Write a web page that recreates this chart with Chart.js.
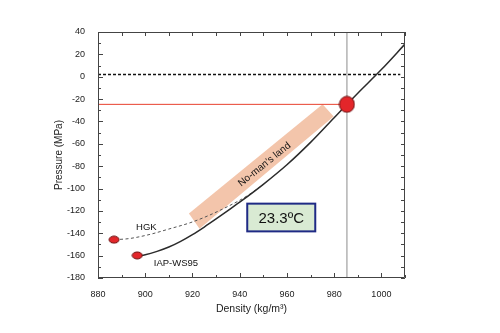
<!DOCTYPE html>
<html>
<head>
<meta charset="utf-8">
<script src="https://cdn.jsdelivr.net/npm/chart.js@4/dist/chart.umd.min.js"></script>
<style>
  body { margin: 0; background: #fff; }
  canvas { display: block; }
</style>
</head>
<body>
<canvas id="grafico" width="500" height="333"></canvas>
<script>
// Datos
const densIAP = [897, 900, 905, 910, 915, 920, 925, 930, 935, 940, 950, 960, 970, 980, 985.4, 990, 1000, 1010];
const presIAP = [-160.5, -159.3, -156.2, -152.3, -147.2, -141.2, -134.4, -127.2, -119.8, -112.2, -96.2, -78.7, -58.7, -36.6, -24.7, -14.7, 6.4, 29.2];

const densHGK = [887, 893, 902, 910, 919, 927, 935, 940, 945, 950];
const presHGK = [-145.7, -144.8, -141, -136.2, -130.6, -124, -116, -110.5, -104, -96.5];

// Zona "No-man's land" (esquinas)
const densBanda = [918.5, 975.1, 979.8, 923];
const presBanda = [-122.4, -24.7, -35.5, -135.9];

const densMarcas = [886.8, 896.6];
const presMarcas = [-145.7, -159.8];
const densCruce = 985.4;
const presCruce = -24.7;
const presAtm = 2;

const xTicks = [880, 900, 920, 940, 960, 980, 1000];
const yTicks = [40, 20, 0, -20, -40, -60, -80, -100, -120, -140, -160, -180];

const pares = (xs, ys) => xs.map((x, i) => ({ x: x, y: ys[i] }));

function elipse(w, h) {
    const c = document.createElement('canvas');
    c.width = w + 2; c.height = h + 2;
    const g = c.getContext('2d');
    g.beginPath();
    g.ellipse((w + 2) / 2, (h + 2) / 2, w / 2, h / 2, 0, 0, Math.PI * 2);
    g.fillStyle = '#e3262a';
    g.fill();
    g.lineWidth = 1;
    g.strokeStyle = '#6b1010';
    g.stroke();
    return c;
}

// Marco, marcas hacia adentro en los cuatro lados y textos
const marcasPlugin = {
    id: 'marcas',
    afterDraw(chart) {
        const ctx = chart.ctx;
        const a = chart.chartArea;
        const x = chart.scales.x, y = chart.scales.y;
        ctx.save();
        ctx.setLineDash([]);
        ctx.strokeStyle = '#444';
        ctx.lineWidth = 1;
        ctx.beginPath();
        ctx.rect(Math.round(a.left) + 0.5, Math.round(a.top) + 0.5,
                 Math.round(a.right - a.left) - 1, Math.round(a.bottom - a.top) - 1);
        ctx.stroke();
        ctx.beginPath();
        for (let v = 880; v <= 1010; v += 10) {
            const px = Math.round(x.getPixelForValue(v)) + 0.5;
            const l = v % 20 === 0 ? 5 : 3;
            ctx.moveTo(px, a.bottom); ctx.lineTo(px, a.bottom - l);
            ctx.moveTo(px, a.top); ctx.lineTo(px, a.top + 4);
        }
        for (let v = -180; v <= 40; v += 10) {
            const py = Math.round(y.getPixelForValue(v)) + 0.5;
            const l = v % 20 === 0 ? 5 : 3;
            ctx.moveTo(a.left, py); ctx.lineTo(a.left + l, py);
            ctx.moveTo(a.right, py); ctx.lineTo(a.right - 4, py);
        }
        ctx.stroke();

        // etiquetas
        ctx.fillStyle = '#111';
        ctx.font = '9.5px "Liberation Sans", Arial, sans-serif';
        ctx.textAlign = 'center';
        ctx.textBaseline = 'middle';
        ctx.fillText('HGK', x.getPixelForValue(900.5), y.getPixelForValue(-135));
        ctx.fillText('IAP-WS95', x.getPixelForValue(913), y.getPixelForValue(-167));

        // texto rotado de la banda
        ctx.save();
        ctx.translate(x.getPixelForValue(950.5), y.getPixelForValue(-78.5));
        ctx.rotate(-39 * Math.PI / 180);
        ctx.font = '10px "Liberation Sans", Arial, sans-serif';
        ctx.fillText('No-man\u2019s land', 0, 0);
        ctx.restore();

        // caja de temperatura
        const bx = x.getPixelForValue(943.2), by = y.getPixelForValue(-113.5);
        const bw = x.getPixelForValue(972) - bx, bh = y.getPixelForValue(-138.3) - by;
        ctx.fillStyle = '#d9ead3';
        ctx.fillRect(bx, by, bw, bh);
        ctx.strokeStyle = '#1f2a85';
        ctx.lineWidth = 2;
        ctx.strokeRect(bx, by, bw, bh);
        ctx.fillStyle = '#111';
        ctx.font = '15px "Liberation Sans", Arial, sans-serif';
        ctx.fillText('23.3\u00baC', bx + bw / 2, by + bh / 2 + 1);
        ctx.restore();
    }
};

const fuenteTicks = { family: '"Liberation Sans", Arial, sans-serif', size: 9 };

new Chart(document.getElementById('grafico'), {
    type: 'scatter',
    data: {
        datasets: [
            {
                data: pares(densMarcas, presMarcas),
                pointStyle: elipse(10, 7),
                pointRadius: 5,
                order: 0
            },
            {
                data: [{ x: densCruce, y: presCruce }],
                pointStyle: elipse(15, 16),
                pointRadius: 8,
                order: 0
            },
            {
                data: pares(densIAP, presIAP),
                showLine: true,
                borderColor: '#2b2b2b',
                borderWidth: 1.5,
                pointRadius: 0,
                cubicInterpolationMode: 'monotone',
                order: 1
            },
            {
                data: pares(densHGK, presHGK),
                showLine: true,
                borderColor: '#555',
                borderWidth: 1,
                borderDash: [3, 2.5],
                pointRadius: 0,
                cubicInterpolationMode: 'monotone',
                order: 1
            },
            {
                data: [{ x: 880, y: presAtm }, { x: 1008, y: presAtm }],
                showLine: true,
                borderColor: '#111',
                borderWidth: 1.5,
                borderDash: [3, 2],
                pointRadius: 0,
                order: 2
            },
            {
                data: [{ x: 880, y: presCruce }, { x: densCruce, y: presCruce }],
                showLine: true,
                borderColor: '#e8402e',
                borderWidth: 1,
                pointRadius: 0,
                order: 2
            },
            {
                data: [{ x: densCruce, y: -180 }, { x: densCruce, y: 40 }],
                showLine: true,
                borderColor: '#b3b3b3',
                borderWidth: 1.5,
                pointRadius: 0,
                order: 3
            },
            {
                data: pares(densBanda, presBanda),
                showLine: true,
                borderWidth: 0,
                borderColor: 'rgba(0,0,0,0)',
                backgroundColor: '#f3c5ab',
                fill: 'shape',
                pointRadius: 0,
                order: 5
            }
        ]
    },
    options: {
        responsive: false,
        animation: false,
        layout: { padding: { top: 32, right: 95, bottom: 0, left: 0 } },
        plugins: { legend: { display: false }, tooltip: { enabled: false } },
        scales: {
            x: {
                type: 'linear',
                min: 880,
                max: 1010,
                afterFit: s => { s.height = 55; },
                afterBuildTicks: s => { s.ticks = xTicks.map(v => ({ value: v })); },
                grid: { display: false },
                border: { display: false },
                ticks: { font: fuenteTicks, color: '#222', padding: 3, maxRotation: 0, callback: v => String(v) },
                title: {
                    display: true,
                    text: 'Density (kg/m\u00b3)',
                    color: '#222',
                    font: { family: '"Liberation Sans", Arial, sans-serif', size: 10.5 },
                    padding: { top: 0, bottom: 18 }
                }
            },
            y: {
                type: 'linear',
                min: -180,
                max: 40,
                afterFit: s => { s.width = 98; },
                afterBuildTicks: s => { s.ticks = yTicks.map(v => ({ value: v })); },
                grid: { display: false },
                border: { display: false },
                ticks: { font: fuenteTicks, color: '#222', padding: 5, callback: v => String(v) },
                title: {
                    display: true,
                    text: 'Pressure (MPa)',
                    color: '#222',
                    font: { family: '"Liberation Sans", Arial, sans-serif', size: 10 },
                    padding: { top: 53, bottom: 0 }
                }
            }
        }
    },
    plugins: [marcasPlugin]
});
</script>
</body>
</html>
